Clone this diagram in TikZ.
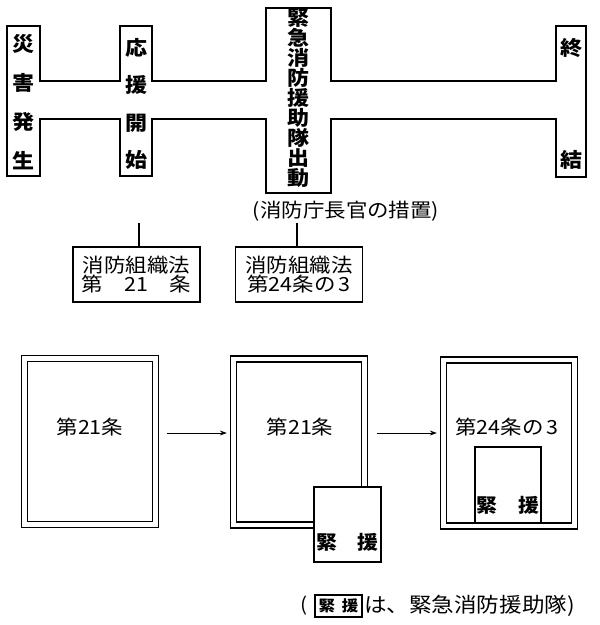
\documentclass[tikz,border=0pt]{standalone}
\usepackage{fontspec}
\setmainfont[FakeStretch=1.1]{Noto Sans CJK JP}
\usetikzlibrary{arrows.meta,calc}
\begin{document}
\begin{tikzpicture}[x=1pt,y=-1pt,line width=1.3pt,
  vtext/.style={font=\fontsize{20}{#1}\selectfont\bfseries,align=center,inner sep=0pt},
  lawbox/.style={draw,minimum width=127pt,minimum height=55pt,inner sep=0pt,align=center,
    font=\fontsize{19.5}{19}\selectfont},
  frame/.style={draw,double,double distance=4.5pt,minimum width=131pt,minimum height=166pt,inner sep=0pt},
  kbox/.style={draw,fill=white,inner sep=0pt},
  btext/.style={font=\fontsize{19.5}{19.5}\selectfont,inner sep=0pt},
  ktext/.style={font=\fontsize{19}{19}\selectfont\bfseries,inner sep=0pt},
  arr/.style={-{Stealth[length=7pt,width=5pt]},line width=1pt}]
\useasboundingbox (0,0) rectangle (600,625);
% top outline
\draw (7,26) -- (40,26) -- (40,81) -- (120,81) -- (120,26) -- (152,26) -- (152,81)
  -- (266,81) -- (266,8) -- (331,8) -- (331,81) -- (556,81) -- (556,26) -- (586,26)
  -- (586,177) -- (556,177) -- (556,119) -- (331,119) -- (331,193) -- (266,193)
  -- (266,119) -- (152,119) -- (152,176) -- (120,176) -- (120,119) -- (40,119)
  -- (40,176) -- (7,176) -- cycle;
\node[vtext=39] (t1) at (23.5,102) {災\\害\\発\\生};
\node[vtext=37.5] (t2) at (136,104) {応\\援\\開\\始};
\node[vtext=18.2] (t3) at (298.5,98) {緊\\急\\消\\防\\援\\助\\隊\\出\\動};
\node[vtext=112] (t4) at (571,104) {終\\結};
\node[font=\fontsize{19.5}{19.5}\selectfont,inner sep=0pt] (cap) at (346,211) {(消防庁長官の措置)};
% law boxes
\node[lawbox] (law1) at (136.5,274.5) {消防組織法\\第　21　条};
\node[lawbox] (law2) at (299,274.5) {消防組織法\\第24条の\,3};
\coordinate (u1) at (139,223);
\coordinate (u2) at (297,223);
\draw (u1) -- (u1 |- law1.north);
\draw (u2) -- (u2 |- law2.north);
% bottom frames
\node[frame] (b1) at (90,441.5) {};
\node[frame] (b2) at (299,442) {};
\node[frame] (b3) at (509,443) {};
\node[btext] (b1t) at (90,427) {第21条};
\node[btext] (b2t) at (300,427) {第21条};
\node[btext] (b3t) at (507,427) {第24条の\,3};
\node[kbox,minimum width=67pt,minimum height=75pt] (k2) at (347.5,524.5) {};
\node[ktext] (k2t) at (347.5,542) {緊　援};
\node[kbox,minimum width=66pt,minimum height=76pt] (k3) at (508,485) {};
\node[ktext] (k3t) at (508,505) {緊　援};
\draw[arr] ($(b1.east)+(11,-8.5)$) -- ($(b2.west)+(-6,-9)$);
\draw[arr] ($(b2.east)+(11.5,-9)$) -- ($(b3.west)+(-6,-10)$);
% legend
\node[font=\fontsize{19}{19}\selectfont,inner sep=0pt] (lp) at (304,606) {(};
\node[draw,minimum width=47pt,minimum height=22pt,inner sep=0pt,line width=1.1pt,
  font=\fontsize{15}{15}\selectfont\bfseries] (lk) at (338.5,606) {緊\hspace{7pt}援};
\node[anchor=west,inner sep=1pt,font=\fontsize{20.5}{20.5}\selectfont] (lt) at (lk.east) {は、緊急消防援助隊)};
\end{tikzpicture}
\end{document}
